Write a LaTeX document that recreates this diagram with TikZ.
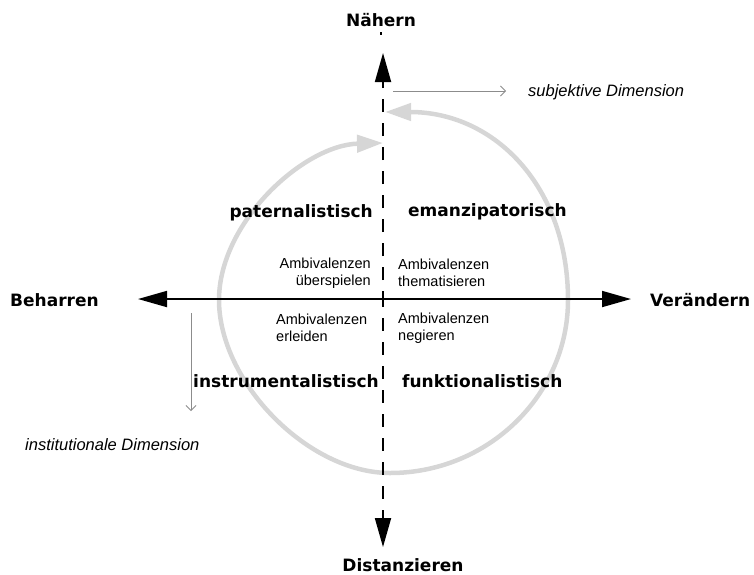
\documentclass[tikz,border=0pt]{standalone}
\usepackage{fontspec}
\setmainfont{Liberation Sans}
\newfontfamily\verd{DejaVu Sans}
\usetikzlibrary{arrows.meta}
\definecolor{ringgray}{RGB}{214,214,214}
\definecolor{dimgray}{RGB}{140,140,140}
\tikzset{
  big/.style={font=\verd\bfseries\fontsize{17}{20}\selectfont, inner sep=0pt},
  small/.style={font=\fontsize{14.5}{17}\selectfont, inner sep=0pt},
  dimtext/.style={font=\itshape\fontsize{16.5}{19}\selectfont, inner sep=0pt},
  axisline/.style={line width=1.8pt, -{Triangle[length=29pt,width=16pt]}},
  ring/.style={color=ringgray, line width=4.5pt, {Triangle[length=26pt,width=17pt]}-{Triangle[length=26pt,width=17pt]}},
  dimarrow/.style={color=dimgray, line width=0.8pt, -{Straight Barb[length=5pt,width=10pt]}}
}
\begin{document}
\begin{tikzpicture}[x=1pt,y=-1pt]
\useasboundingbox (0,0) rectangle (754,574);
% ring points
\coordinate (r0) at (383,143);
\coordinate (r1) at (219,300);
\coordinate (r2) at (390,473);
\coordinate (r3) at (568,300);
\coordinate (r4) at (385,112);
% gray ring
\draw[ring] (r0) .. controls (304,145) and (219,222) .. (r1)
  .. controls (219,382) and (308,473) .. (r2)
  .. controls (488,473) and (568,395) .. (r3)
  .. controls (568,187) and (495,112) .. (r4);
% coordinates
\coordinate (vtop) at (383,53);
\coordinate (vbot) at (383,547);
\coordinate (vmid) at (383,299);
\coordinate (hl) at (138,299);
\coordinate (hr) at (631,299);
\coordinate (hmid) at (383,299);
\coordinate (s1) at (393,91);
\coordinate (s2) at (506,91);
\coordinate (i1) at (191,313);
\coordinate (i2) at (191,411);
% axes
\draw[axisline] (hmid) -- (hl);
\draw[axisline] (hmid) -- (hr);
\draw[axisline, dash pattern=on 13pt off 11pt, dash phase=5pt] (vmid) -- (vtop);
\draw[axisline, dash pattern=on 13pt off 11pt, dash phase=5pt] (vmid) -- (vbot);
\fill (380,32) rectangle (382,35);
% dimension arrows
\draw[dimarrow] (s1) -- (s2);
\draw[dimarrow] (i1) -- (i2);
% labels
\node[big] (nah) at (381,20) {Nähern};
\node[big] (dis) at (403,565) {Distanzieren};
\node[big, anchor=west] (beh) at (10,300) {Beharren};
\node[big, anchor=west] (ver) at (650,300) {Verändern};
\node[big, anchor=east] (pat) at (373,213) {paternalistisch};
\node[big, anchor=west] (ema) at (408,212) {emanzipatorisch};
\node[big, anchor=west] (ins) at (193,381) {instrumentalistisch};
\node[big, anchor=west] (fun) at (402,381) {funktionalistisch};
\node[small, align=right, anchor=east] (a1) at (371,273) {Ambivalenzen\\überspielen};
\node[small, align=left, anchor=west] (a2) at (398,273) {Ambivalenzen\\thematisieren};
\node[small, align=left, anchor=west] (a3) at (276,328) {Ambivalenzen\\erleiden};
\node[small, align=left, anchor=west] (a4) at (398,328) {Ambivalenzen\\negieren};
\node[dimtext, anchor=west] (subj) at (528,92) {subjektive Dimension};
\node[dimtext, anchor=west] (inst) at (25,445) {institutionale Dimension};
\end{tikzpicture}
\end{document}
